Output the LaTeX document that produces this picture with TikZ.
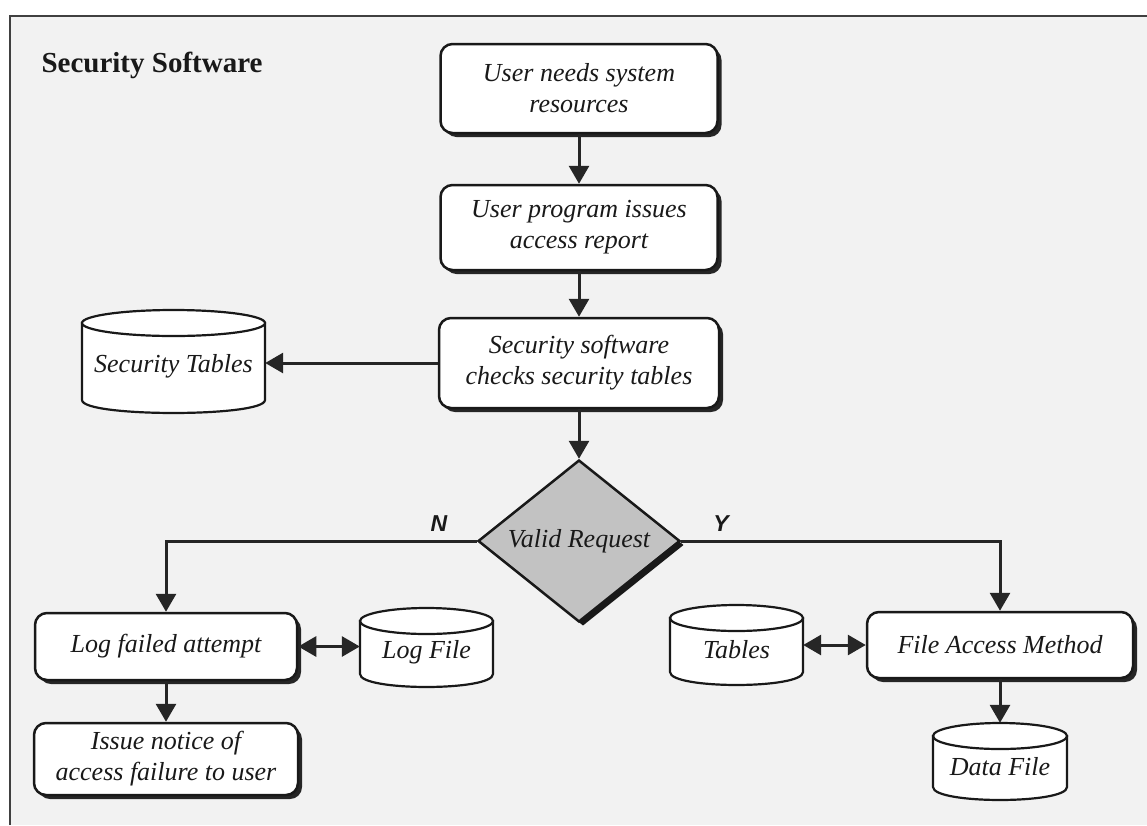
\documentclass[tikz,border=0pt]{standalone}
\usepackage{fontspec}
\setmainfont{Liberation Serif}
\newfontfamily\labelfont{Liberation Sans}
\usetikzlibrary{arrows.meta,shapes.geometric,shadows,calc}
\newcommand\dbcyl[6]{%
  \pgfmathsetmacro\cyxl{#2-#4/2}%
  \pgfmathsetmacro\cyxr{#2+#4/2}%
  \pgfmathsetmacro\cyrx{#4/2}%
  \pgfmathsetmacro\cyyt{#3-#5/2+13}%
  \pgfmathsetmacro\cyyb{#3+#5/2-13}%
  \pgfmathsetmacro\cyyc{#3+#5/2-13+17.3}%
  \draw[cylstyle] (\cyxl,\cyyt) -- (\cyxl,\cyyb) .. controls (\cyxl,\cyyc) and (\cyxr,\cyyc) .. (\cyxr,\cyyb) -- (\cyxr,\cyyt) -- cycle;
  \draw[cylstyle] (#2,\cyyt) ellipse [x radius=\cyrx pt, y radius=13pt];
  \node[cylnode, minimum width=#4pt, minimum height=#5pt] (#1) at (#2,#3) {};
  \node[cyltext] at (#2,#3+5) {#6};
}
\begin{document}
\begin{tikzpicture}[x=1pt,y=-1pt,
  txt/.style={font=\fontsize{26}{31}\selectfont\itshape, text=black!90},
  box/.style={txt, draw=black!90, line width=2.5pt, fill=white, rounded corners=12pt,
    inner sep=0pt, align=center,
    drop shadow={shadow xshift=4pt, shadow yshift=-4pt, opacity=1, fill=black!85}},
  cylstyle/.style={draw=black!90, line width=2.2pt, fill=white},
  cylnode/.style={draw=none, inner sep=0pt},
  cyltext/.style={txt},
  dec/.style={diamond, aspect=1.25, draw=black!90, line width=2.5pt, fill=black!24,
    inner sep=0pt, minimum width=202pt, minimum height=162pt,
    drop shadow={shadow xshift=4pt, shadow yshift=-4pt, opacity=1, fill=black!90}},
  conn/.style={draw=black!85, line width=3pt, -{Triangle[width=20pt,length=18pt]}},
  biconn/.style={draw=black!85, line width=3pt, {Triangle[width=20pt,length=18pt]}-{Triangle[width=20pt,length=18pt]}},
  yn/.style={font=\labelfont\fontsize{23}{23}\selectfont\bfseries\itshape, text=black!90}
]
\useasboundingbox (0,0) rectangle (1147,825);
\fill[white] (0,0) rectangle (1147,825);
\fill[black!5] (10,16) rectangle (1147,825);
\draw[line width=2pt, black!75] (10,825) -- (10,16) -- (1147,16);

\node[anchor=base west, font=\fontsize{29}{34}\selectfont\bfseries, text=black!90] (title) at (38,72) {Security Software};

\node[box, minimum width=277pt, minimum height=89pt] (b1) at (579,88.5) {User needs system\\resources};
\node[box, minimum width=277pt, minimum height=85pt] (b2) at (579,227.5) {User program issues\\access report};
\node[box, minimum width=280pt, minimum height=90pt] (b3) at (579,363) {Security software\\checks security tables};
\node[dec] (vr) at (579,541) {};
\node[txt] (vrt) at (579,541) {Valid Request};
\node[box, minimum width=262pt, minimum height=67pt] (log) at (166,646.5) {Log failed attempt};
\node[box, minimum width=264pt, minimum height=72pt] (notice) at (166,759) {Issue notice of\\access failure to user};
\node[box, minimum width=266pt, minimum height=66pt] (fam) at (1000,645) {File Access Method};

\dbcyl{sectab}{173.5}{361.5}{183}{103}{Security Tables}
\dbcyl{logfile}{426.5}{647.5}{133}{79}{Log File}
\dbcyl{tables}{736.5}{645}{133}{80}{Tables}
\dbcyl{datafile}{1000}{761.5}{134}{77}{Data File}

\draw[conn] (b1.south) -- (b2.north);
\draw[conn] (b2.south) -- (b3.north);
\draw[conn] (b3.west) -- (b3.west -| sectab.east);
\draw[conn] (b3.south) -- (vr.north);
\draw[conn] (vr.west) -| (log.north);
\draw[conn] (vr.east) -| (fam.north);
\draw[biconn] (log.east) -- (log.east -| logfile.west);
\draw[conn] (log.south) -- (notice.north);
\draw[biconn] (fam.west -| tables.east) -- (fam.west);
\draw[conn] (fam.south) -- (datafile.north);

\node[yn] (nlab) at (439,524) {N};
\node[yn] (ylab) at (721,524) {Y};
\end{tikzpicture}
\end{document}
